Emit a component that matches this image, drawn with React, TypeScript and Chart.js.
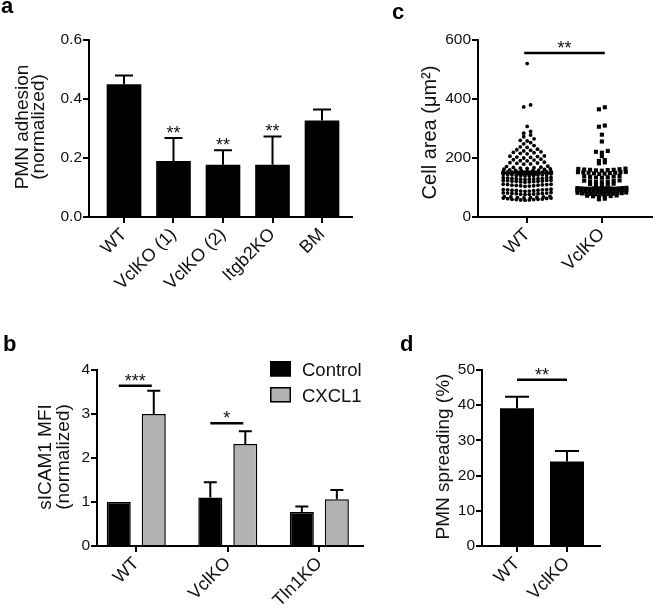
import React, { useEffect, useRef } from 'react';
import { Chart, registerables } from 'chart.js';
Chart.register(...registerables);

const W = 656;
const H = 608;
const FONT = "'Liberation Sans', Arial, Helvetica, sans-serif";
const INK = '#111';

// ---------- Panel a ----------
const aLabels = ['WT', 'VclKO (1)', 'VclKO (2)', 'Itgb2KO', 'BM'];
const aMeans = [0.45, 0.19, 0.177, 0.177, 0.327];
const aErrs = [0.03, 0.078, 0.049, 0.096, 0.037];
const aStars = ['', '**', '**', '**', ''];
const aTicks = [0, 0.2, 0.4, 0.6];

// ---------- Panel b ----------
const bLabels = ['WT', 'VclKO', 'Tln1KO'];
const bSeries = ['Control', 'CXCL1'];
const bControl = [1.0, 1.1, 0.77];
const bControlErr = [0, 0.35, 0.13];
const bCxcl1 = [3.0, 2.32, 1.06];
const bCxcl1Err = [0.53, 0.29, 0.21];
const bTicks = [0, 1, 2, 3, 4];
const bSig = [
  { group: 0, y: 3.64, text: '***' },
  { group: 1, y: 2.79, text: '*' },
];

// ---------- Panel c ----------
const cLabels = ['WT', 'VclKO'];
const cWT = [
  520, 380, 373, 307, 290, 284, 278, 272, 265, 260, 258, 252, 248, 242, 238, 236,
  230, 228, 226, 224, 221, 219, 218, 216, 214, 207, 206, 205, 203, 202, 200,
  196, 194, 193, 191, 190, 186, 184, 183, 182, 180, 179,
  172, 171, 169, 168, 167, 166, 165,
  163, 162, 161, 160, 159, 158, 158, 157, 156,
  155, 154, 153, 153, 152, 152, 151, 150, 150, 149, 148, 148,
  146, 145, 144, 144, 143, 143, 142, 141, 141, 140, 139, 139,
  134, 133, 133, 132, 131, 131, 130, 130, 129, 128, 128, 127,
  125, 124, 124, 123, 122, 122, 121, 121, 120, 119, 119, 118,
  111, 111, 110, 110, 109, 108, 108, 107, 106, 106, 105, 104,
  94, 93, 93, 92, 92, 91, 91, 90, 89, 88, 88, 87,
  83, 82, 81, 81, 80, 80, 79, 79, 78, 77, 77, 76,
  70, 69, 68, 68, 67, 66, 66, 65,
  64, 64, 63, 62, 61, 60, 60, 59, 59, 58, 58, 57,
];
const cVclKO = [
  372, 365, 310, 306, 279, 256, 224, 221, 218, 206, 193, 190, 185, 182,
  164, 163, 162, 161, 160, 160, 159, 158, 157,
  153, 152, 152, 151, 150, 150, 149, 148, 147, 146,
  139, 138, 137, 136, 135, 134, 133,
  124, 123, 122, 121, 120, 119, 118,
  113, 111, 110, 108, 107,
  99, 98, 98, 97, 97, 96, 96, 95, 95, 94, 94, 93, 92,
  91, 90, 90, 89, 89, 88, 88, 87, 87, 86, 86, 85, 84,
  83, 82, 81, 80, 80, 79, 79, 78, 78, 77, 77, 76,
  73, 72, 71, 70, 69, 68,
  62, 60,
];
const cMeans = [149, 97];
const cSems = [6, 5];
const cTicks = [0, 200, 400, 600];
const cSig = { from: -0.04, to: 1.04, y: 556, text: '**' };

// ---------- Panel d ----------
const dLabels = ['WT', 'VclKO'];
const dMeans = [39.1, 24.0];
const dErrs = [3.3, 3.0];
const dTicks = [0, 10, 20, 30, 40, 50];
const dSig = { y: 47.2, text: '**' };

// ---------- geometry (plot areas in page pixels) ----------
const YW = 60;
const GEO: any = {
  a: { left: 89, top: 40, right: 352, bottom: 217, xMin: -0.707, xMax: 4.606, xh: 100 },
  b: { left: 97, top: 370, right: 363, bottom: 546, xMin: -0.429, xMax: 2.477, xh: 62 },
  c: { left: 478, top: 40, right: 655, bottom: 217, xMin: -0.658, xMax: 1.671, xh: 100 },
  d: { left: 482, top: 370, right: 600, bottom: 546, xMin: -0.7, xMax: 1.66, xh: 62 },
};

const pad = (g: any) => ({ left: g.left - YW, top: g.top, right: W - g.right, bottom: H - g.bottom - g.xh });

const gridOpts = {
  offset: false,
  drawOnChartArea: false,
  drawTicks: true,
  tickLength: 6,
  tickWidth: 2,
  tickColor: '#000',
  color: '#000',
  lineWidth: 2,
};
const borderOpts = { display: true, color: '#000', width: 2 };

function axisX(labels: string[], g: any) {
  return {
    type: 'linear',
    min: g.xMin,
    max: g.xMax,
    offset: false,
    z: 1,
    afterFit: (s: any) => { s.height = g.xh; },
    afterBuildTicks: (s: any) => { s.ticks = labels.map((_, i) => ({ value: i })); },
    ticks: {
      autoSkip: false,
      minRotation: 45,
      maxRotation: 45,
      padding: 1,
      color: INK,
      font: { family: FONT, size: 18 },
      callback: (v: any) => labels[v] ?? '',
    },
    grid: gridOpts,
    border: borderOpts,
  };
}

function axisY(ticks: number[], fmt: (v: number) => string) {
  return {
    type: 'linear',
    min: ticks[0],
    max: ticks[ticks.length - 1],
    z: 1,
    afterFit: (s: any) => { s.width = YW; },
    afterBuildTicks: (s: any) => { s.ticks = ticks.map((v) => ({ value: v })); },
    ticks: { padding: 1, color: INK, font: { family: FONT, size: 15.5 }, callback: (v: any) => fmt(v) },
    grid: gridOpts,
    border: borderOpts,
  };
}

function baseOptions(g: any) {
  return {
    animation: false,
    responsive: false,
    devicePixelRatio: 1,
    events: [],
    layout: { padding: pad(g) },
    plugins: { legend: { display: false }, tooltip: { enabled: false } },
  };
}

function vtext(ctx: any, text: string, x: number, y: number, size: number) {
  ctx.save();
  ctx.translate(x, y);
  ctx.rotate(-Math.PI / 2);
  ctx.font = `${size}px ${FONT}`;
  ctx.textAlign = 'center';
  ctx.textBaseline = 'alphabetic';
  ctx.fillStyle = INK;
  ctx.fillText(text, 0, 0);
  ctx.restore();
}

function letter(ctx: any, t: string, x: number, y: number) {
  ctx.save();
  ctx.font = `bold 22px ${FONT}`;
  ctx.fillStyle = '#000';
  ctx.textAlign = 'left';
  ctx.textBaseline = 'alphabetic';
  ctx.fillText(t, x, y);
  ctx.restore();
}

function errBar(ctx: any, x: number, y0: number, y1: number, half: number) {
  ctx.save();
  ctx.strokeStyle = '#000';
  ctx.lineWidth = 2;
  ctx.beginPath();
  ctx.moveTo(x, y0);
  ctx.lineTo(x, y1);
  ctx.moveTo(x - half, y1);
  ctx.lineTo(x + half, y1);
  ctx.stroke();
  ctx.restore();
}

function stars(ctx: any, t: string, x: number, y: number) {
  ctx.save();
  ctx.font = `18px ${FONT}`;
  ctx.fillStyle = INK;
  ctx.textAlign = 'center';
  ctx.textBaseline = 'alphabetic';
  ctx.fillText(t, x, y);
  ctx.restore();
}

function sigLine(ctx: any, x1: number, x2: number, y: number) {
  ctx.save();
  ctx.strokeStyle = '#000';
  ctx.lineWidth = 2.5;
  ctx.beginPath();
  ctx.moveTo(x1, y);
  ctx.lineTo(x2, y);
  ctx.stroke();
  ctx.restore();
}

// GraphPad-like row layout of scatter points: values close together share a row,
// rows are spread horizontally (sparser rows get a wider pitch)
function rowLayout(vals: number[], center: number, bin: number, rowWidthPx: number, maxPitch: number, pxPerX: number) {
  const sorted = [...vals].sort((a, b) => a - b);
  const pts: { x: number; y: number }[] = [];
  let row: number[] = [];
  const flush = () => {
    const n = row.length;
    const pitch = Math.min(maxPitch, rowWidthPx / n);
    const slots: number[] = [];
    for (let k = 0; k < n; k++) slots.push((k - (n - 1) / 2) * pitch);
    slots.sort((p, q) => Math.abs(p) - Math.abs(q) || p - q);
    row.forEach((v, i) => pts.push({ x: center + slots[i] / pxPerX, y: v }));
    row = [];
  };
  for (const v of sorted) {
    if (row.length && v - row[0] > bin) flush();
    row.push(v);
  }
  if (row.length) flush();
  return pts;
}

function makeA(canvas: HTMLCanvasElement) {
  const g = GEO.a;
  const deco = {
    id: 'decoA',
    afterDatasetsDraw(chart: any) {
      const ctx = chart.ctx;
      const x = chart.scales.x;
      const y = chart.scales.y;
      aMeans.forEach((m, i) => {
        const px = x.getPixelForValue(i);
        const top = y.getPixelForValue(m + aErrs[i]);
        errBar(ctx, px, y.getPixelForValue(m), top, 9);
        if (aStars[i]) stars(ctx, aStars[i], px, top + 1);
      });
      vtext(ctx, 'PMN adhesion', 27.5, 127, 19);
      vtext(ctx, '(normalized)', 44, 127, 19);
      letter(ctx, 'a', 1, 13);
    },
  };
  return new Chart(canvas, {
    type: 'bar',
    data: {
      datasets: [
        {
          data: aMeans.map((v, i) => ({ x: i, y: v })),
          backgroundColor: '#000',
          borderWidth: 0,
          categoryPercentage: 1,
          barPercentage: 0.7,
        },
      ],
    },
    options: {
      ...baseOptions(g),
      scales: { x: axisX(aLabels, g), y: axisY(aTicks, (v) => v.toFixed(1)) },
    } as any,
    plugins: [deco],
  } as any);
}

function makeB(canvas: HTMLCanvasElement) {
  const g = GEO.b;
  const deco = {
    id: 'decoB',
    afterDatasetsDraw(chart: any) {
      const ctx = chart.ctx;
      const y = chart.scales.y;
      const m0 = chart.getDatasetMeta(0).data;
      const m1 = chart.getDatasetMeta(1).data;
      bControl.forEach((m, i) => {
        if (bControlErr[i] > 0) errBar(ctx, m0[i].x, y.getPixelForValue(m), y.getPixelForValue(m + bControlErr[i]), 6.5);
      });
      bCxcl1.forEach((m, i) => {
        if (bCxcl1Err[i] > 0) errBar(ctx, m1[i].x, y.getPixelForValue(m), y.getPixelForValue(m + bCxcl1Err[i]), 6.5);
      });
      bSig.forEach((s) => {
        const x1 = m0[s.group].x;
        const x2 = m1[s.group].x - 2;
        const py = y.getPixelForValue(s.y);
        sigLine(ctx, x1, x2, py);
        stars(ctx, s.text, (x1 + x2) / 2, py + 1);
      });
      // legend
      ctx.save();
      const ds = chart.data.datasets;
      const boxes = [361, 387];
      ds.forEach((d: any, i: number) => {
        ctx.fillStyle = d.backgroundColor;
        ctx.fillRect(270, boxes[i], 21, 15.5);
        ctx.strokeStyle = '#000';
        ctx.lineWidth = 1.5;
        ctx.strokeRect(270.75, boxes[i] + 0.75, 19.5, 14);
        ctx.fillStyle = INK;
        ctx.font = `18.5px ${FONT}`;
        ctx.textAlign = 'left';
        ctx.textBaseline = 'alphabetic';
        ctx.fillText(d.label, 302, boxes[i] + 15);
      });
      ctx.restore();
      vtext(ctx, 'sICAM1 MFI', 50.5, 457, 19);
      vtext(ctx, '(normalized)', 68.5, 457, 19);
      letter(ctx, 'b', 3, 350.5);
    },
  };
  const common = { borderColor: '#000', borderWidth: 1.5, categoryPercentage: 0.765, barPercentage: 0.686 };
  return new Chart(canvas, {
    type: 'bar',
    data: {
      datasets: [
        { label: bSeries[0], data: bControl.map((v, i) => ({ x: i, y: v })), backgroundColor: '#000', ...common },
        { label: bSeries[1], data: bCxcl1.map((v, i) => ({ x: i, y: v })), backgroundColor: '#b3b3b3', ...common },
      ],
    },
    options: {
      ...baseOptions(g),
      scales: { x: axisX(bLabels, g), y: axisY(bTicks, (v) => String(v)) },
    } as any,
    plugins: [deco],
  } as any);
}

function makeC(canvas: HTMLCanvasElement) {
  const g = GEO.c;
  const pxPerX = (g.right - g.left) / (g.xMax - g.xMin);
  const deco = {
    id: 'decoC',
    afterDatasetsDraw(chart: any) {
      const ctx = chart.ctx;
      const x = chart.scales.x;
      const y = chart.scales.y;
      ctx.save();
      ctx.strokeStyle = '#000';
      cMeans.forEach((m, i) => {
        const px = x.getPixelForValue(i);
        const pm = y.getPixelForValue(m);
        const pu = y.getPixelForValue(m + cSems[i]);
        const pl = y.getPixelForValue(m - cSems[i]);
        ctx.lineWidth = 2.5;
        ctx.beginPath();
        ctx.moveTo(px - 26, pm);
        ctx.lineTo(px + 26, pm);
        ctx.stroke();
        ctx.lineWidth = 1.5;
        ctx.beginPath();
        ctx.moveTo(px, pu);
        ctx.lineTo(px, pl);
        ctx.moveTo(px - 10, pu);
        ctx.lineTo(px + 10, pu);
        ctx.moveTo(px - 10, pl);
        ctx.lineTo(px + 10, pl);
        ctx.stroke();
      });
      ctx.restore();
      const x1 = x.getPixelForValue(cSig.from);
      const x2 = x.getPixelForValue(cSig.to);
      const py = y.getPixelForValue(cSig.y);
      sigLine(ctx, x1, x2, py);
      stars(ctx, cSig.text, (x1 + x2) / 2, py + 1);
      vtext(ctx, 'Cell area (\u03bcm\u00b2)', 436, 132.5, 20);
      letter(ctx, 'c', 392, 19);
    },
  };
  return new Chart(canvas, {
    type: 'scatter',
    data: {
      datasets: [
        {
          data: rowLayout(cWT, 0, 7, 53, 7, pxPerX),
          pointStyle: 'circle',
          radius: 1.9,
          backgroundColor: '#000',
          borderWidth: 0,
        },
        {
          data: rowLayout(cVclKO, 1, 7, 54, 6, pxPerX),
          pointStyle: 'rect',
          radius: 2.9,
          backgroundColor: '#000',
          borderWidth: 0,
        },
      ],
    },
    options: {
      ...baseOptions(g),
      scales: { x: axisX(cLabels, g), y: axisY(cTicks, (v) => String(v)) },
    } as any,
    plugins: [deco],
  } as any);
}

function makeD(canvas: HTMLCanvasElement) {
  const g = GEO.d;
  const deco = {
    id: 'decoD',
    afterDatasetsDraw(chart: any) {
      const ctx = chart.ctx;
      const y = chart.scales.y;
      const m0 = chart.getDatasetMeta(0).data;
      dMeans.forEach((m, i) => {
        errBar(ctx, m0[i].x, y.getPixelForValue(m), y.getPixelForValue(m + dErrs[i]), 12);
      });
      const py = y.getPixelForValue(dSig.y);
      sigLine(ctx, m0[0].x, m0[1].x, py);
      stars(ctx, dSig.text, (m0[0].x + m0[1].x) / 2, py + 1);
      vtext(ctx, 'PMN spreading (%)', 449, 456.5, 19);
      letter(ctx, 'd', 400, 350.5);
    },
  };
  return new Chart(canvas, {
    type: 'bar',
    data: {
      datasets: [
        {
          data: dMeans.map((v, i) => ({ x: i, y: v })),
          backgroundColor: '#000',
          borderWidth: 0,
          categoryPercentage: 1,
          barPercentage: 0.68,
        },
      ],
    },
    options: {
      ...baseOptions(g),
      scales: { x: axisX(dLabels, g), y: axisY(dTicks, (v) => String(v)) },
    } as any,
    plugins: [deco],
  } as any);
}

export default function App() {
  const ra = useRef<HTMLCanvasElement>(null);
  const rb = useRef<HTMLCanvasElement>(null);
  const rc = useRef<HTMLCanvasElement>(null);
  const rd = useRef<HTMLCanvasElement>(null);
  useEffect(() => {
    const charts = [makeA(ra.current!), makeB(rb.current!), makeC(rc.current!), makeD(rd.current!)];
    return () => charts.forEach((c) => c.destroy());
  }, []);
  const cs: any = { position: 'absolute', left: 0, top: 0, width: W, height: H };
  return (
    <div style={{ position: 'fixed', left: 0, top: 0, width: W, height: H, background: '#fff', overflow: 'hidden' }}>
      <canvas ref={ra} width={W} height={H} style={cs} />
      <canvas ref={rb} width={W} height={H} style={cs} />
      <canvas ref={rc} width={W} height={H} style={cs} />
      <canvas ref={rd} width={W} height={H} style={cs} />
    </div>
  );
}
